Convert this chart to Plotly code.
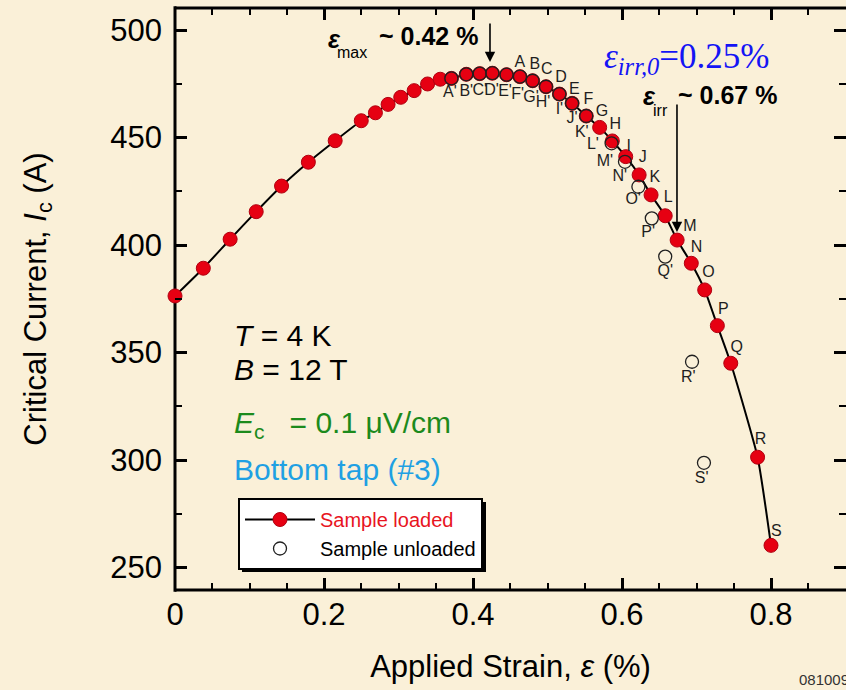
import plotly.graph_objects as go

# ---------------- data ----------------
strain_loaded = [0.000, 0.038, 0.074, 0.109, 0.143, 0.179, 0.215, 0.250, 0.269, 0.286,
                 0.303, 0.321, 0.339, 0.356, 0.371, 0.391, 0.409, 0.426, 0.445, 0.463,
                 0.480, 0.498, 0.516, 0.533, 0.552, 0.570, 0.587, 0.605, 0.623, 0.639,
                 0.658, 0.674, 0.693, 0.711, 0.728, 0.746, 0.782, 0.800]
ic_loaded = [376.3, 389.2, 402.7, 415.5, 427.4, 438.5, 448.5, 457.8, 461.5, 465.4,
             468.7, 471.8, 474.9, 477.1, 477.5, 479.4, 479.7, 479.9, 479.2, 478.3,
             476.4, 473.6, 470.2, 465.9, 460.0, 454.7, 448.4, 441.1, 432.6, 423.3,
             413.6, 402.3, 391.5, 379.1, 362.5, 345.0, 301.3, 260.3]

strain_unloaded = [0.371, 0.391, 0.409, 0.426, 0.445, 0.463, 0.480, 0.498, 0.516, 0.533,
                   0.552, 0.586, 0.604, 0.622, 0.640, 0.658, 0.694, 0.710]
ic_unloaded = [477.5, 479.4, 479.7, 479.9, 479.2, 478.3, 476.4, 473.6, 470.2, 465.9,
               460.0, 447.3, 438.7, 427.1, 412.4, 394.6, 345.7, 298.7]

loaded_letters = list("ABCDEFGHIJKLMNOPQRS")
loaded_label_x = [0.463, 0.483, 0.499, 0.518, 0.536, 0.555, 0.573, 0.591, 0.609, 0.628,
                  0.644, 0.662, 0.691, 0.700, 0.716, 0.736, 0.754, 0.786, 0.807]
loaded_label_y = [484.5, 483.7, 481.4, 477.8, 472.1, 467.4, 462.0, 455.8, 445.7, 440.3,
                  431.0, 421.7, 408.5, 398.5, 387.1, 369.8, 351.9, 309.3, 266.7]

unloaded_letters = [c + "'" for c in "ABCDEFGHIJKLMNOPQRS"]
unloaded_label_x = [0.369, 0.391, 0.409, 0.425, 0.443, 0.460, 0.478, 0.494, 0.516, 0.533,
                    0.546, 0.561, 0.577, 0.597, 0.615, 0.635, 0.658, 0.689, 0.707]
unloaded_label_y = [470.6, 471.3, 471.8, 471.8, 471.3, 469.8, 468.2, 465.9, 462.8, 458.5,
                    452.2, 446.5, 438.7, 431.8, 420.9, 405.4, 387.6, 338.0, 291.0]

x_ticks = [0, 0.2, 0.4, 0.6, 0.8]
x_tick_text = ["0", "0.2", "0.4", "0.6", "0.8"]
y_ticks = [250, 300, 350, 400, 450, 500]

eps_max = 0.42
eps_irr = 0.67

# ---------------- layout geometry ----------------
W, H = 846, 690
ML, MR, MT, MB = 175, 0, 8, 100
PW, PH = W - ML - MR, H - MT - MB
X_RANGE = [0.0, (W - ML) / 745.0]
Y_RANGE = [500 - (H - MB - 30) / 2.15, 500 + (30 - MT) / 2.15]

def px(xp):
    return (xp - ML) / PW

def py(yp):
    return (H - MB - yp) / PH

BG = "#FAF0D8"
FONT = "Liberation Sans, Arial, sans-serif"

fig = go.Figure()

fig.add_trace(go.Scatter(
    x=strain_loaded, y=ic_loaded, mode="lines+markers",
    name="<span style='color:#E8141E'>Sample loaded</span>",
    line=dict(color="black", width=2, shape="spline", smoothing=0.5),
    marker=dict(color="#E60012", size=14, line=dict(color="#B00010", width=1)),
    cliponaxis=False,
))
fig.add_trace(go.Scatter(
    x=strain_unloaded, y=ic_unloaded, mode="markers",
    name="Sample unloaded",
    marker=dict(symbol="circle-open", color="#202020", size=13, line=dict(width=1.3)),
    cliponaxis=False,
))
fig.add_trace(go.Scatter(
    x=loaded_label_x, y=loaded_label_y, mode="text", text=loaded_letters,
    textfont=dict(family=FONT, size=16, color="#1e1e1e"), showlegend=False, hoverinfo="skip",
))
fig.add_trace(go.Scatter(
    x=unloaded_label_x, y=unloaded_label_y, mode="text", text=unloaded_letters,
    textfont=dict(family=FONT, size=16, color="#1e1e1e"), showlegend=False, hoverinfo="skip",
))

axis_common = dict(
    showline=False, ticks="inside", mirror="ticks", tickcolor="black", tickwidth=2.5,
    ticklen=12, showgrid=False, zeroline=False,
    tickfont=dict(family=FONT, size=31, color="black"),
)

fig.update_xaxes(
    range=X_RANGE, tickvals=x_ticks, ticktext=x_tick_text,
    minor=dict(dtick=0.05, tick0=0, ticks="inside", ticklen=7, tickwidth=2, tickcolor="black", showgrid=False),
    title=dict(text="Applied Strain, <i>ε</i> (%)", font=dict(family=FONT, size=31, color="black"), standoff=24),
    ticklabelstandoff=3,
    **axis_common,
)
fig.update_yaxes(
    range=Y_RANGE, tickvals=y_ticks,
    minor=dict(dtick=25, tick0=250, ticks="inside", ticklen=7, tickwidth=2, tickcolor="black", showgrid=False),
    title=dict(text="Critical Current, <i>I</i><sub>c</sub> (A)", font=dict(family=FONT, size=31, color="black"), standoff=54),
    ticklabelstandoff=12,
    **axis_common,
)

shapes = [
    dict(type="line", xref="paper", yref="paper", x0=0, x1=0, y0=-0.003, y1=1.003, line=dict(color="black", width=3), layer="below"),
    dict(type="line", xref="paper", yref="paper", x0=0, x1=1.01, y0=1, y1=1, line=dict(color="black", width=3), layer="below"),
    dict(type="line", xref="paper", yref="paper", x0=0, x1=1.01, y0=0, y1=0, line=dict(color="black", width=3), layer="below"),
    # legend drop shadow
    dict(type="rect", xref="paper", yref="paper", x0=px(242), x1=px(486), y0=py(572), y1=py(502),
         fillcolor="black", line=dict(width=0), layer="below"),
]

annotations = [
    dict(x=px(232), y=py(335), xref="paper", yref="paper", xanchor="left", yanchor="middle",
         text="<i>T</i> = 4 K", showarrow=False, font=dict(family=FONT, size=30, color="black")),
    dict(x=px(232), y=py(369), xref="paper", yref="paper", xanchor="left", yanchor="middle",
         text="<i>B</i> = 12 T", showarrow=False, font=dict(family=FONT, size=30, color="black")),
    dict(x=px(232), y=py(424), xref="paper", yref="paper", xanchor="left", yanchor="middle",
         text="<i>E</i><sub>c</sub>   = 0.1 μV/cm", showarrow=False, font=dict(family=FONT, size=30, color="#1C8A1C")),
    dict(x=px(232), y=py(469), xref="paper", yref="paper", xanchor="left", yanchor="middle",
         text="Bottom tap (#3)", showarrow=False, font=dict(family=FONT, size=30, color="#1FA0E3")),
    # eps_irr,0
    dict(x=px(687), y=py(58), xref="paper", yref="paper", xanchor="center", yanchor="middle",
         text="<i>ε<sub>irr,0</sub></i>=0.25%", showarrow=False,
         font=dict(family="Liberation Serif, Times New Roman, serif", size=35, color="#1414F5")),
    # eps_max label
    dict(x=px(334), y=py(39), xref="paper", yref="paper", xanchor="center", yanchor="middle",
         text="<b><i>ε</i></b>", showarrow=False, font=dict(family=FONT, size=25, color="black")),
    dict(x=px(352), y=py(53), xref="paper", yref="paper", xanchor="center", yanchor="middle",
         text="max", showarrow=False, font=dict(family=FONT, size=16, color="black")),
    dict(x=px(377), y=py(36), xref="paper", yref="paper", xanchor="left", yanchor="middle",
         text="<b>~ %.2f %%</b>" % eps_max, showarrow=False, font=dict(family=FONT, size=25, color="black")),
    # eps_irr label
    dict(x=px(649), y=py(96), xref="paper", yref="paper", xanchor="center", yanchor="middle",
         text="<b><i>ε</i></b>", showarrow=False, font=dict(family=FONT, size=25, color="black")),
    dict(x=px(660), y=py(110), xref="paper", yref="paper", xanchor="center", yanchor="middle",
         text="irr", showarrow=False, font=dict(family=FONT, size=16, color="black")),
    dict(x=px(676), y=py(95), xref="paper", yref="paper", xanchor="left", yanchor="middle",
         text="<b>~ %.2f %%</b>" % eps_irr, showarrow=False, font=dict(family=FONT, size=25, color="black")),
    # arrows
    dict(x=0.4228, y=485.1, ax=0.4228, ay=503.7, xref="x", yref="y", axref="x", ayref="y",
         text="", showarrow=True, arrowhead=2, arrowsize=1.3, arrowwidth=1.6, arrowcolor="black", standoff=0),
    dict(x=0.6738, y=406.0, ax=0.6738, ay=466.0, xref="x", yref="y", axref="x", ayref="y",
         text="", showarrow=True, arrowhead=2, arrowsize=1.3, arrowwidth=1.6, arrowcolor="black", standoff=0),
    # stamp
    dict(x=px(797), y=py(680), xref="paper", yref="paper", xanchor="left", yanchor="middle",
         text="081009", showarrow=False, font=dict(family=FONT, size=15, color="#333333")),
]

fig.update_layout(
    width=W, height=H, autosize=False,
    margin=dict(l=ML, r=MR, t=MT, b=MB, pad=0),
    paper_bgcolor=BG, plot_bgcolor=BG,
    showlegend=True,
    legend=dict(x=px(238), y=py(498), xanchor="left", yanchor="top",
                bgcolor="white", bordercolor="black", borderwidth=2,
                font=dict(family=FONT, size=20, color="black"),
                itemwidth=70, tracegroupgap=0),
    shapes=shapes, annotations=annotations,
    font=dict(family=FONT),
)

fig.write_html("out.html")
